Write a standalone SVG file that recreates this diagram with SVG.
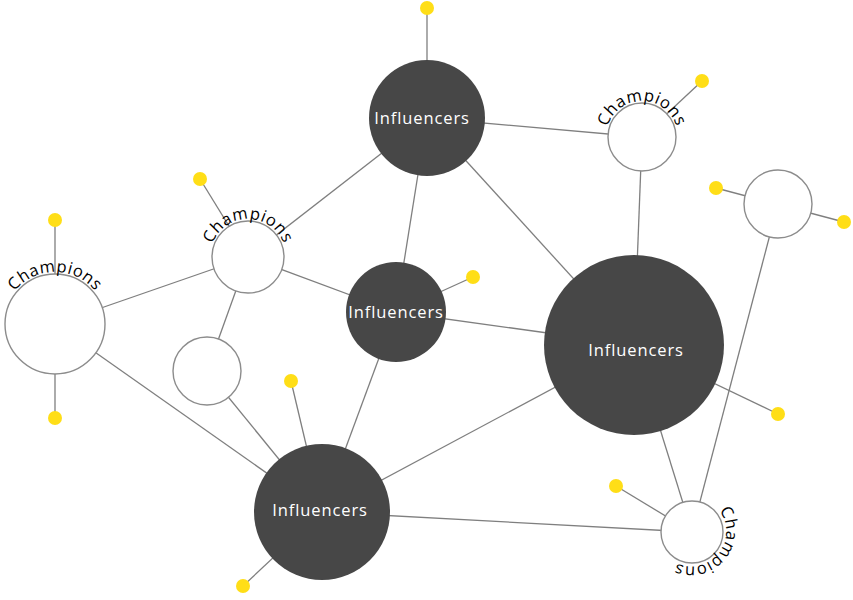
<svg xmlns="http://www.w3.org/2000/svg" width="853" height="600" viewBox="0 0 853 600">
<style>
.e{stroke:#7f7f7f;stroke-width:1.3;fill:none}
.dark{fill:#474747}
.light{fill:#fff;stroke:#8c8c8c;stroke-width:1.4}
.dot{fill:#ffde17}
.inf{font-family:"Open Sans",sans-serif;font-size:16.5px;fill:#fff;text-anchor:middle;letter-spacing:0.9px}
.ch{font-family:"Open Sans",sans-serif;font-size:16.5px;fill:#000;text-anchor:middle;letter-spacing:0.6px}
</style>
<defs>
<path id="pE" d="M 3 324 A 52 52 0 0 1 107 324"/>
<path id="pF" d="M 210 257 A 38 38 0 0 1 286 257"/>
<path id="pG" d="M 606 137 A 36 36 0 0 1 678 137"/>
<path id="pJ" d="M 714 504.8 A 35 35 0 0 1 670 559.2"/>
</defs>
<g id="connectors">
<line class="e" x1="427" y1="118" x2="642" y2="137"/>
<line class="e" x1="427" y1="118" x2="248" y2="257"/>
<line class="e" x1="427" y1="118" x2="396" y2="312"/>
<line class="e" x1="427" y1="118" x2="634" y2="345"/>
<line class="e" x1="642" y1="137" x2="634" y2="345"/>
<line class="e" x1="248" y1="257" x2="55" y2="324"/>
<line class="e" x1="248" y1="257" x2="396" y2="312"/>
<line class="e" x1="248" y1="257" x2="207" y2="371"/>
<line class="e" x1="396" y1="312" x2="634" y2="345"/>
<line class="e" x1="396" y1="312" x2="322" y2="512"/>
<line class="e" x1="55" y1="324" x2="322" y2="512"/>
<line class="e" x1="207" y1="371" x2="322" y2="512"/>
<line class="e" x1="634" y1="345" x2="322" y2="512"/>
<line class="e" x1="634" y1="345" x2="692" y2="532"/>
<line class="e" x1="778" y1="204" x2="692" y2="532"/>
<line class="e" x1="322" y1="512" x2="692" y2="532"/>
<line class="e" x1="427" y1="8" x2="427" y2="118"/>
<line class="e" x1="702" y1="81" x2="642" y2="137"/>
<line class="e" x1="200" y1="179" x2="248" y2="257"/>
<line class="e" x1="55" y1="220" x2="55" y2="418"/>
<line class="e" x1="473" y1="277" x2="396" y2="312"/>
<line class="e" x1="716" y1="188" x2="844" y2="222"/>
<line class="e" x1="291" y1="381" x2="322" y2="512"/>
<line class="e" x1="778" y1="414" x2="634" y2="345"/>
<line class="e" x1="616" y1="486" x2="692" y2="532"/>
<line class="e" x1="243" y1="586" x2="322" y2="512"/>
</g>
<g id="dots">
<circle class="dot" cx="427" cy="8" r="7"/>
<circle class="dot" cx="702" cy="81" r="7"/>
<circle class="dot" cx="200" cy="179" r="7"/>
<circle class="dot" cx="55" cy="220" r="7"/>
<circle class="dot" cx="55" cy="418" r="7"/>
<circle class="dot" cx="473" cy="277" r="7"/>
<circle class="dot" cx="716" cy="188" r="7"/>
<circle class="dot" cx="844" cy="222" r="7"/>
<circle class="dot" cx="291" cy="381" r="7"/>
<circle class="dot" cx="778" cy="414" r="7"/>
<circle class="dot" cx="616" cy="486" r="7"/>
<circle class="dot" cx="243" cy="586" r="7"/>
</g>
<g id="influencers-top"><circle class="dark" cx="427" cy="118" r="58"/><text class="inf" x="422" y="124">Influencers</text></g>
<g id="influencers-mid"><circle class="dark" cx="396" cy="312" r="50"/><text class="inf" x="396" y="318">Influencers</text></g>
<g id="influencers-big"><circle class="dark" cx="634" cy="345" r="90"/><text class="inf" x="636" y="356">Influencers</text></g>
<g id="influencers-bottom"><circle class="dark" cx="322" cy="512" r="68"/><text class="inf" x="320" y="516">Influencers</text></g>
<g id="champions-left"><circle class="light" cx="55" cy="324" r="50"/><text class="ch"><textPath href="#pE" startOffset="50%">Champions</textPath></text></g>
<g id="champions-midleft"><circle class="light" cx="248" cy="257" r="36"/><text class="ch"><textPath href="#pF" startOffset="50%">Champions</textPath></text></g>
<g id="champions-topright"><circle class="light" cx="642" cy="137" r="34"/><text class="ch"><textPath href="#pG" startOffset="50%">Champions</textPath></text></g>
<g id="champions-bottomright"><circle class="light" cx="692" cy="532" r="31"/><text class="ch"><textPath href="#pJ" startOffset="50%">Champions</textPath></text></g>
<g id="node-plain-left"><circle class="light" cx="207" cy="371" r="34"/></g>
<g id="node-plain-right"><circle class="light" cx="778" cy="204" r="34"/></g>
</svg>
